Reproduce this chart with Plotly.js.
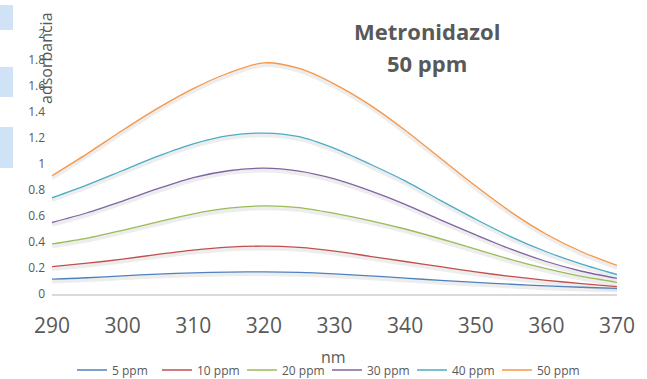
<!DOCTYPE html>
<html>
<head>
<meta charset="utf-8">
<script src="https://cdn.plot.ly/plotly-3.0.1.min.js"></script>
<style>
html,body{margin:0;padding:0;background:#fff;}
#chart{width:647px;height:379px;}
</style>
</head>
<body>
<div id="chart"></div>
<script>
var wavelengths = [290,295,300,305,310,315,320,325,330,335,340,345,350,355,360,365,370];
var seriesNames = ['5 ppm','10 ppm','20 ppm','30 ppm','40 ppm','50 ppm'];
var seriesColors = ['#4F81BD','#C0504D','#9BBB59','#8064A2','#4BACC6','#F79646'];
var ppm5  = [0.115,0.125,0.14,0.153,0.163,0.169,0.17,0.166,0.155,0.14,0.122,0.105,0.09,0.075,0.062,0.052,0.044];
var ppm10 = [0.21,0.237,0.268,0.305,0.338,0.36,0.368,0.358,0.33,0.29,0.25,0.21,0.17,0.135,0.105,0.08,0.056];
var ppm20 = [0.385,0.43,0.49,0.555,0.617,0.66,0.678,0.665,0.62,0.565,0.50,0.425,0.345,0.265,0.195,0.135,0.09];
var ppm30 = [0.55,0.625,0.715,0.81,0.895,0.948,0.968,0.945,0.885,0.795,0.69,0.57,0.455,0.345,0.25,0.175,0.12];
var ppm40 = [0.74,0.84,0.95,1.06,1.155,1.218,1.238,1.21,1.12,1.00,0.87,0.72,0.575,0.44,0.325,0.23,0.15];
var ppm50 = [0.91,1.08,1.26,1.43,1.58,1.70,1.778,1.735,1.615,1.455,1.26,1.045,0.83,0.63,0.46,0.325,0.22];
var xTicks = [290,300,310,320,330,340,350,360,370];
var yTicks = [0,0.2,0.4,0.6,0.8,1,1.2,1.4,1.6,1.8,2];
var yTickLabels = ['0','0.2','0.4','0.6','0.8','1','1.2','1.4','1.6','1.8','2'];

var allSeries = [ppm5,ppm10,ppm20,ppm30,ppm40,ppm50];
var traces = [];
// soft shadows (Excel style)
allSeries.forEach(function(s){
  traces.push({x:wavelengths, y:s.map(function(v){return v-0.018;}), type:'scatter', mode:'lines',
    line:{color:'rgba(0,0,0,0.07)', width:4, shape:'spline', smoothing:0.8}, showlegend:false, hoverinfo:'skip'});
});
allSeries.forEach(function(s,i){
  traces.push({x:wavelengths, y:s, type:'scatter', mode:'lines', name:seriesNames[i],
    line:{color:seriesColors[i], width:1.3, shape:'spline', smoothing:0.8}});
});

var W = 565, H = 260, L = 52, T = 34;
function px(xp){return (xp-L)/W;}
function py(yp){return (T+H-yp)/H;}

var layout = {
  width:647, height:379,
  margin:{l:L, r:647-L-W, t:T, b:379-T-H, autoexpand:false},
  paper_bgcolor:'#ffffff', plot_bgcolor:'#ffffff',
  font:{family:'Open Sans, sans-serif', color:'#595959'},
  showlegend:true,
  xaxis:{range:[290,370], tickvals:xTicks, ticktext:xTicks.map(String), showgrid:false, zeroline:false,
    showline:true, linecolor:'#d9d9d9', linewidth:1.5, ticks:'', tickfont:{size:21, color:'#595959'},
    ticklabelstandoff:12},
  yaxis:{range:[0,2], tickvals:yTicks, ticktext:yTickLabels, showgrid:false, zeroline:false,
    showline:false, ticks:'', tickfont:{size:12, color:'#595959'}, ticklabelstandoff:6},
  legend:{orientation:'h', x:px(72), xanchor:'left', y:py(370), yanchor:'middle',
    font:{size:12, color:'#595959'}, itemwidth:30, entrywidth:40, entrywidthmode:'pixels',
    bgcolor:'rgba(0,0,0,0)', tracegroupgap:0},
  shapes:[
    {type:'rect', xref:'paper', yref:'paper', x0:px(0), x1:px(13), y0:py(30), y1:py(5), fillcolor:'#cfe2f6', line:{width:0}},
    {type:'rect', xref:'paper', yref:'paper', x0:px(0), x1:px(13), y0:py(97), y1:py(67), fillcolor:'#cfe2f6', line:{width:0}},
    {type:'rect', xref:'paper', yref:'paper', x0:px(0), x1:px(13), y0:py(168), y1:py(127), fillcolor:'#cfe2f6', line:{width:0}}
  ],
  annotations:[
    {text:'<b>Metronidazol</b>', xref:'paper', yref:'paper', x:px(427), y:py(31), showarrow:false,
      font:{size:22, color:'#595959'}, xanchor:'center', yanchor:'middle'},
    {text:'<b>50 ppm</b>', xref:'paper', yref:'paper', x:px(427), y:py(63), showarrow:false,
      font:{size:22, color:'#595959'}, xanchor:'center', yanchor:'middle'},
    {text:'adsorbancia', xref:'paper', yref:'paper', x:px(46), y:py(58), showarrow:false, textangle:-90,
      font:{size:16, color:'#595959'}, xanchor:'center', yanchor:'middle'},
    {text:'nm', xref:'paper', yref:'paper', x:px(333), y:py(357), showarrow:false,
      font:{size:16, color:'#595959'}, xanchor:'center', yanchor:'middle'}
  ]
};
Plotly.newPlot('chart', traces, layout, {displayModeBar:false, staticPlot:true});
</script>
</body>
</html>
